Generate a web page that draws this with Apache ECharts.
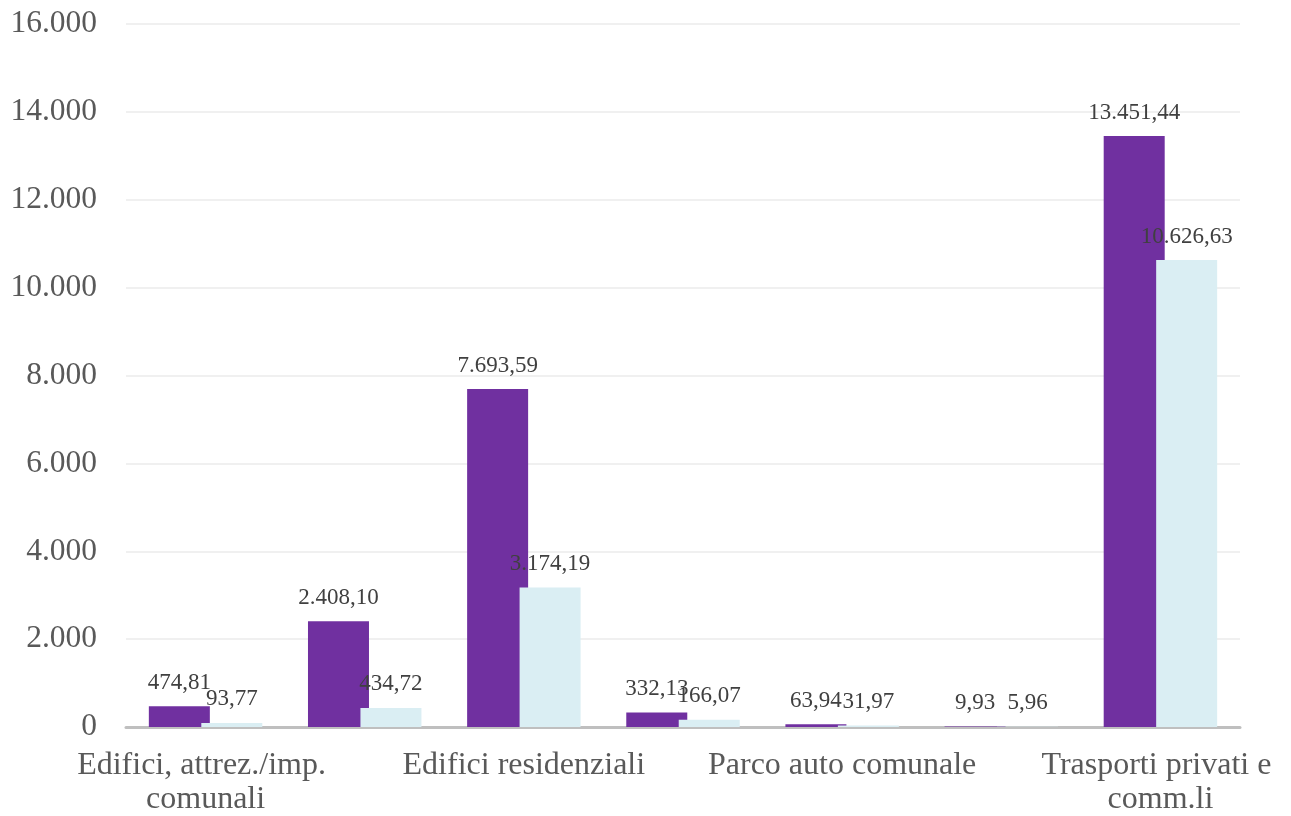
<!DOCTYPE html>
<html>
<head>
<meta charset="utf-8">
<script src="https://cdn.jsdelivr.net/npm/echarts@6/dist/echarts.min.js"></script>
<style>
  html, body { margin: 0; padding: 0; background: #ffffff; }
  #chart { width: 1291px; height: 816px; }
</style>
</head>
<body>
<div id="chart"></div>
<script>
// Settori del PAES (solo le etichette alterne vengono mostrate sull'asse)
const categories = [
  'Edifici, attrez./imp. comunali',
  'Edifici terziari non comunali',
  'Edifici residenziali',
  'Illuminazione pubblica comunale',
  'Parco auto comunale',
  'Trasporti pubblici',
  'Trasporti privati e comm.li'
];

// Emissioni per settore
const serieA = [474.81, 2408.10, 7693.59, 332.13, 63.94, 9.93, 13451.44];
const serieB = [93.77, 434.72, 3174.19, 166.07, 31.97, 5.96, 10626.63];

// Tacche dell'asse verticale
const yTicks = { min: 0, max: 16000, interval: 2000 };

const FONT = '"Liberation Serif", "DejaVu Serif", serif';

// Formattazione numerica all'italiana: 13.451,44
function fmt(v, dec) {
  const parts = v.toFixed(dec).split('.');
  parts[0] = parts[0].replace(/\B(?=(\d{3})+(?!\d))/g, '.');
  return parts.length > 1 ? parts[0] + ',' + parts[1] : parts[0];
}

const chart = echarts.init(document.getElementById('chart'), null, { renderer: 'canvas' });

const labelCfg = {
  show: true,
  position: 'top',
  distance: 12,
  color: '#404040',
  fontFamily: FONT,
  fontSize: 23,
  formatter: p => fmt(p.value, 2)
};

chart.setOption({
  backgroundColor: '#ffffff',
  animation: false,
  grid: {
    left: 126, right: 51, top: 24, bottom: 89,
    containLabel: false,
    outerBoundsMode: 'none'
  },
  xAxis: {
    type: 'category',
    data: categories,
    axisLine: { show: true, lineStyle: { color: '#bfbfbf', width: 3 } },
    axisTick: { show: false },
    axisLabel: {
      interval: 1,
      margin: 22,
      color: '#595959',
      fontFamily: FONT,
      fontSize: 32,
      lineHeight: 34,
      width: 295,
      overflow: 'break'
    }
  },
  yAxis: {
    type: 'value',
    min: yTicks.min,
    max: yTicks.max,
    interval: yTicks.interval,
    axisLine: { show: false },
    axisTick: { show: false },
    splitLine: { show: true, lineStyle: { color: '#f0f0f0', width: 2 } },
    axisLabel: {
      margin: 29,
      color: '#595959',
      fontFamily: FONT,
      fontSize: 31.5,
      formatter: v => fmt(v, 0)
    }
  },
  series: [
    {
      name: 'Serie A',
      type: 'bar',
      data: serieA,
      barWidth: 61,
      barGap: '-14%',
      itemStyle: { color: '#7030a0' },
      label: labelCfg
    },
    {
      name: 'Serie B',
      type: 'bar',
      data: serieB,
      barWidth: 61,
      itemStyle: { color: '#daeef3' },
      label: labelCfg
    }
  ]
});
</script>
</body>
</html>
